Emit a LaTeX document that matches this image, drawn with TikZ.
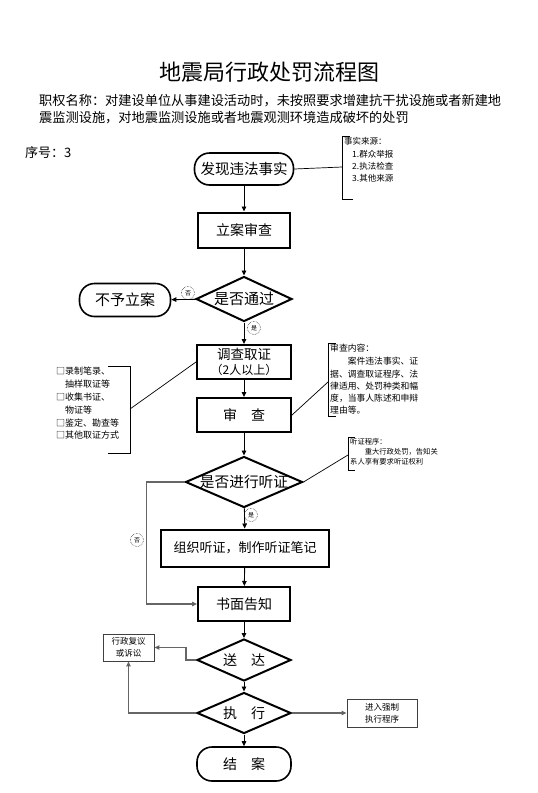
\documentclass[tikz,border=0pt]{standalone}
\usepackage{fontspec}
\setmainfont{Noto Sans CJK SC}
\usetikzlibrary{shapes.geometric,arrows.meta}
\newcommand{\fs}[2]{\fontsize{#1}{#2}\selectfont}
\begin{document}
\begin{tikzpicture}[x=1pt,y=-1pt,
  box/.style={draw, line width=2pt, inner sep=0pt, font=\fs{14}{16}},
  stad/.style={draw, line width=1.6pt, rounded corners=15pt, inner sep=0pt, font=\fs{14.5}{16}},
  dia/.style={diamond, draw, line width=2pt, inner sep=0pt, font=\fs{15}{16}},
  thinbox/.style={draw=black!75, line width=0.9pt, inner sep=0pt, align=center, font=\fs{8.5}{12}},
  arr/.style={-{Triangle[length=5pt,width=4.5pt]}, line width=0.9pt},
  garr/.style={arr, draw=black!60, line width=1.2pt, -{Triangle[length=5pt,width=4.5pt,fill=black]}},
  yn/.style={circle, draw, densely dotted, line width=0.5pt, inner sep=0pt, minimum size=13pt, font=\fs{6}{6}},
  note/.style={anchor=north west, align=left, inner sep=0pt},
  brk/.style={line width=0.9pt},
  lnk/.style={line width=0.7pt}
]
\useasboundingbox (0,0) rectangle (538,793);

% header
\node (title) at (269,72) {\fs{22}{24}地震局行政处罚流程图};
\node[anchor=west, inner sep=0pt] (desc1) at (39,101) {\fs{13.2}{15}职权名称：对建设单位从事建设活动时，未按照要求增建抗干扰设施或者新建地};
\node[anchor=west, inner sep=0pt] (desc2) at (39,118) {\fs{13.2}{15}震监测设施，对地震监测设施或者地震观测环境造成破坏的处罚};
\node[anchor=west, inner sep=0pt] (seq) at (25,153) {\fs{13}{15}序号：3};

% main flow
\node[stad, minimum width=99pt, minimum height=32pt] (found) at (244,169) {发现违法事实};
\node[box, minimum width=92pt, minimum height=35pt] (lian) at (244,230) {立案审查};
\node[dia, minimum width=96pt, minimum height=45pt] (pass) at (244,299) {\makebox[0pt]{是否通过}};
\node[stad, minimum width=91pt, minimum height=33pt, font=\fs{15}{16}] (buyu) at (125,300) {不予立案};
\node[box, minimum width=94pt, minimum height=34pt, align=center, font=\fs{13.5}{16}] (dc) at (244,362) {调查取证\\[-1pt]{\fs{12}{14}（2人以上）}};
\node[box, minimum width=94pt, minimum height=34pt] (sc) at (244,415) {审　查};
\node[dia, minimum width=117pt, minimum height=51pt, font=\fs{14.7}{16}] (tz) at (244,482) {\makebox[0pt]{是否进行听证}};
\node[box, minimum width=168pt, minimum height=37pt, font=\fs{13}{16}] (zz) at (245,548) {组织听证，制作听证笔记};
\node[box, minimum width=92pt, minimum height=34pt] (sm) at (244,604) {书面告知};
\node[dia, minimum width=94pt, minimum height=42pt, font=\fs{14}{16}] (sd) at (244,660) {\makebox[0pt]{送　达}};
\node[dia, minimum width=94pt, minimum height=41pt, font=\fs{14}{16}] (zx) at (244,713) {\makebox[0pt]{执　行}};
\node[stad, minimum width=94pt, minimum height=34pt, font=\fs{14}{16}] (ja) at (244,764) {结　案};
\node[thinbox, minimum width=51pt, minimum height=27pt] (fy) at (128.5,647.5) {行政复议\\或诉讼};
\node[thinbox, minimum width=70pt, minimum height=28pt] (qz) at (382,713) {进入强制\\执行程序};

% main arrows
\draw[arr] (found) -- (lian);
\draw[arr] (lian) -- (pass);
\draw[arr] (pass) -- (buyu);
\draw[arr] (pass) -- (dc);
\draw[arr] (dc) -- (sc);
\draw[arr] (sc) -- (tz);
\draw[arr] (tz) -- (zz);
\draw[arr] (zz) -- (sm);
\draw[arr] (sm) -- (sd);
\draw[arr] (sd) -- (zx);
\draw[arr] (zx) -- (ja);
\draw[garr] (tz.west) -- ++(-38,0) |- (sm.west);
\draw[garr] (sd.west) -- ++(-10,0) |- (fy.east);
\draw[garr] (zx.west) -| (fy.south);
\draw[garr] (zx.east) -- (qz.west);

% yes/no marks
\node[yn] (no1) at (188,293) {否};
\node[yn] (yes1) at (254,328) {是};
\node[yn] (yes2) at (251,515) {是};
\node[yn] (no2) at (137,540) {否};

% note: source of facts
\node[note, font=\fs{8.5}{12.2}] (n1) at (344,137.5) {事实来源：\\\hspace*{8pt}1.群众举报\\\hspace*{8pt}2.执法检查\\\hspace*{8pt}3.其他来源};
\draw[brk] (350,136) -- (342,136) -- (342,199) -- (353,199);
\coordinate (b1) at (342,167);
\draw[lnk] (found.east) -- (b1);

% note: evidence
\node[note, font=\fs{9}{12.8}] (n2) at (56,367) {□录制笔录、\\\hspace*{9pt}抽样取证等\\□收集书证、\\\hspace*{9pt}物证等\\□鉴定、勘查等\\□其他取证方式};
\draw[brk] (108,366) -- (130,366) -- (130,453) -- (108,453);
\coordinate (b2) at (130,409);
\draw[lnk] (b2) -- (dc.west);

% note: review content
\node[note, font=\fs{8.8}{12.2}] (n3) at (330,343.5) {审查内容：\\[1.5pt]\hspace*{17.6pt}案件违法事实、证\\据、调查取证程序、法\\律适用、处罚种类和幅\\度，当事人陈述和申辩\\理由等。};
\draw[brk] (336,343) -- (328,343) -- (328,416) -- (336,416);
\coordinate (b3) at (328,382);
\draw[lnk] (sc.east) -- (b3);

% note: hearing
\node[note, font=\fs{7.3}{10}] (n4) at (350,438.5) {听证程序：\\\hspace*{14.6pt}重大行政处罚，告知关\\系人享有要求听证权利};
\draw[brk] (355,437) -- (348,437) -- (348,470) -- (355,470);
\coordinate (b4) at (348,455);
\draw[lnk] (tz.east) -- (b4);
\end{tikzpicture}
\end{document}
